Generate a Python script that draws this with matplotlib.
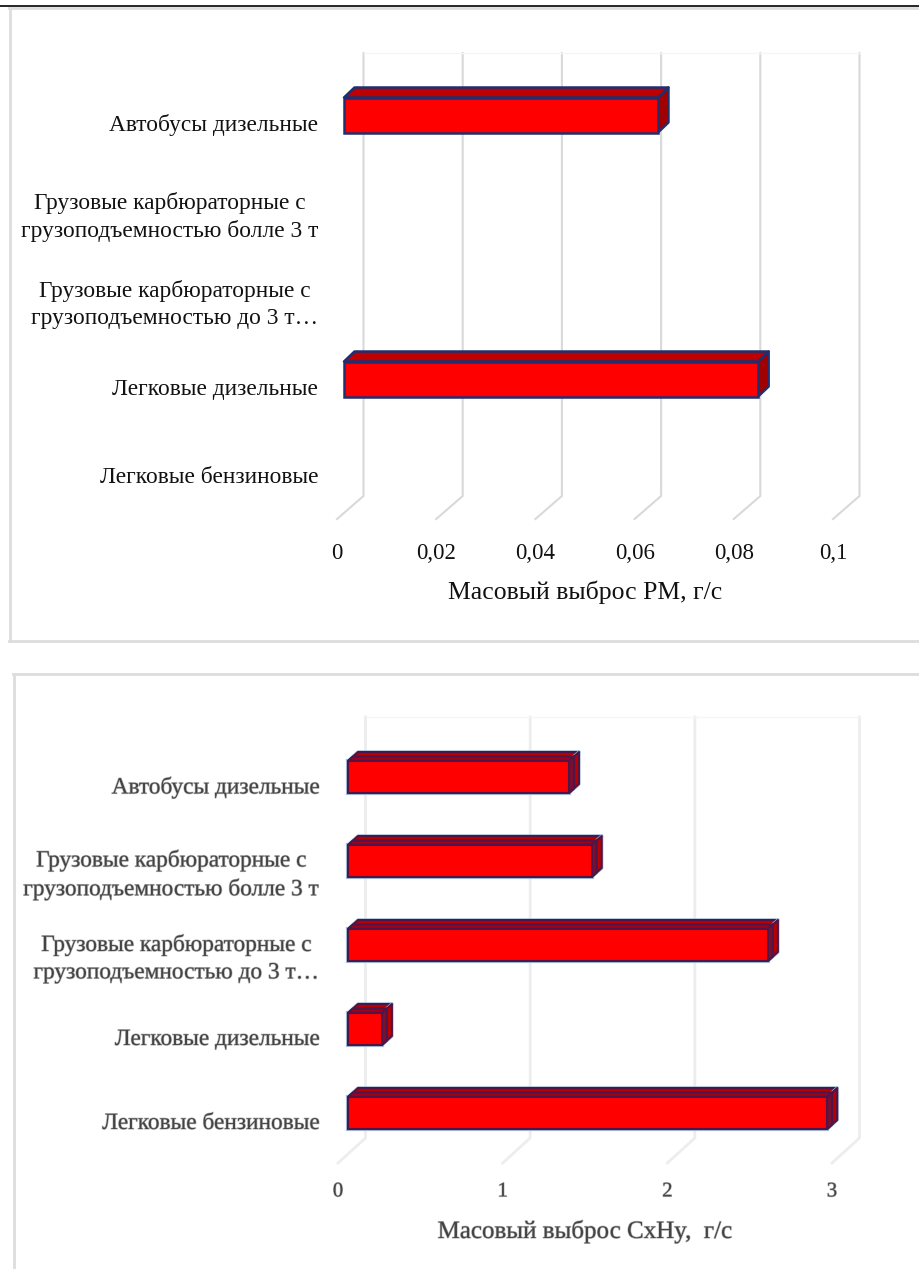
import matplotlib
matplotlib.use('Agg')
import matplotlib.pyplot as plt
import matplotlib.patheffects as pe
from matplotlib.lines import Line2D

plt.rcParams['font.family'] = ['Liberation Serif', 'DejaVu Serif']

W, H = 919, 1269

# categories from bottom to top
categories = ['Легковые бензиновые', 'Легковые дизельные',
              'Грузовые карбюраторные с\nгрузоподъемностью до 3 т…',
              'Грузовые карбюраторные с\nгрузоподъемностью болле 3 т',
              'Автобусы дизельные']

pm_values = [0, 0.0835, 0, 0, 0.0633]
pm_ticks = [0, 0.02, 0.04, 0.06, 0.08, 0.1]
pm_ticklabels = ['0', '0,02', '0,04', '0,06', '0,08', '0,1']
pm_xlabel = 'Масовый выброс PM, г/с'

cxhy_values = [2.91, 0.206, 2.55, 1.48, 1.342]
cxhy_ticks = [0, 1, 2, 3]
cxhy_ticklabels = ['0', '1', '2', '3']
cxhy_xlabel = 'Масовый выброс CxHy,  г/с'

fig = plt.figure(figsize=(W / 100, H / 100), dpi=100, facecolor='white')


def hline(x0, x1, y, color, lw):
    fig.add_artist(Line2D([x0 / W, x1 / W], [1 - y / H, 1 - y / H], color=color, lw=lw))


def vline(x, y0, y1, color, lw):
    fig.add_artist(Line2D([x / W, x / W], [1 - y0 / H, 1 - y1 / H], color=color, lw=lw))


def draw_chart(left, right, top, bottom, wall_top, wall_bottom, wall_dx, values, ticks, ticklabels,
               xlabel, start_px, bar_h_px, lift_px, depth_x, depth_y, style):
    ax = fig.add_axes([left / W, 1 - bottom / H, (right - left) / W, (bottom - top) / H])
    ax.patch.set_alpha(0)
    for s in ax.spines.values():
        s.set_visible(False)
    ax.set_xlim(ticks[0], ticks[-1])
    ax.set_ylim(-0.5, len(categories) - 0.5)

    ppu = (right - left) / (ticks[-1] - ticks[0])
    ppc = (bottom - top) / len(categories)

    def py(y_px):
        return (bottom - y_px) / ppc - 0.5

    # walls
    for t in ticks:
        back = t + wall_dx / ppu
        ax.plot([t, back, back], [-0.5 + style['floor'] / ppc, py(wall_bottom), py(wall_top)],
                color=style['grid'], lw=style['grid_lw'], clip_on=False, zorder=1, solid_joinstyle='miter')
    ax.plot([ticks[0] + wall_dx / ppu, ticks[-1] + wall_dx / ppu], [py(wall_top), py(wall_top)],
            color='#F6F6F6', lw=1, clip_on=False, zorder=1)

    start = start_px / ppu
    h = bar_h_px / ppc
    lift = lift_px / ppc
    for i, v in enumerate(values):
        if v <= 0:
            continue
        y0 = i + lift - h / 2
        y1 = i + lift + h / 2
        x0 = start
        x1 = start + v
        for frac, top_c, side_c in style['layers']:
            dx = depth_x * frac / ppu
            dy = depth_y * frac / ppc
            top_xy = [(x0, y1), (x0 + dx, y1 + dy), (x1 + dx, y1 + dy), (x1, y1)]
            side_xy = [(x1, y0), (x1 + dx, y0 + dy), (x1 + dx, y1 + dy), (x1, y1)]
            for xy, c in ((top_xy, top_c), (side_xy, side_c)):
                # the pale halo only sits outside the outermost layer
                if style['halo'] and frac == 1:
                    ax.fill(*zip(*xy), facecolor=c, edgecolor=style['halo'], lw=2.4,
                            clip_on=False, zorder=3, joinstyle='round')
                ax.fill(*zip(*xy), facecolor=c, edgecolor=style['edge'], lw=style['edge_lw'],
                        clip_on=False, zorder=3, joinstyle='round')
        if style['halo']:
            ax.barh(i + lift, v, height=h, left=start, color='#FF0000', edgecolor=style['halo'],
                    lw=3, zorder=2.5, clip_on=False)
        ax.barh(i + lift, v, height=h, left=start, color='#FF0000', edgecolor=style['edge'],
                lw=style['edge_lw'], zorder=5, clip_on=False)

    ax.set_xticks(ticks)
    ax.set_xticklabels(ticklabels, fontsize=style['x_fs'], color=style['text'])
    ax.set_yticks(range(len(categories)))
    ax.set_yticklabels(categories, fontsize=style['y_fs'], color=style['text'], linespacing=1.4)
    for lab in ax.get_yticklabels():
        lab.set_multialignment('center')
    ax.tick_params(axis='x', length=0, pad=style['x_pad'])
    ax.tick_params(axis='y', length=0, pad=style['y_pad'])
    ax.set_xlabel(xlabel, fontsize=style['label_fs'], color=style['text'], labelpad=style['labelpad'])
    if style['blur']:
        labels = ax.get_xticklabels() + ax.get_yticklabels() + [ax.xaxis.label]
        for lab in labels:
            lab.set_path_effects([pe.withStroke(linewidth=0.9, foreground='#BBBBBB')])
    return ax


top_style = dict(grid='#D9D9D9', grid_lw=1.5, floor=0, edge='#1F2F70', edge_lw=1.8, halo=None,
                 layers=[(1, '#BE0000', '#A00000')], text='#111111', x_fs=16.5, y_fs=16.8, label_fs=18.5,
                 x_pad=17, y_pad=13.5, labelpad=12, blur=False)
bottom_style = dict(grid='#EDEDED', grid_lw=2, floor=0, edge='#4E1548', edge_lw=1.5, halo='#A5BDD8',
                    layers=[(1, '#B80000', '#B80000'), (0.5, '#A00018', '#7A1030')], text='#444444',
                    x_fs=15, y_fs=16.8, label_fs=18, x_pad=14, y_pad=12.5, labelpad=13, blur=True)

draw_chart(337, 833, 79, 519, 53, 496, 26.5, pm_values, pm_ticks, pm_ticklabels, pm_xlabel,
           7, 35, 8, 10.5, 10, top_style)
draw_chart(338, 832, 743, 1163, 717, 1138, 27.5, cxhy_values, cxhy_ticks, cxhy_ticklabels, cxhy_xlabel,
           10, 32, 8, 10, 9, bottom_style)

# page furniture: running header rule and the two chart frames
hline(0, W, 5.5, '#000000', 1.2)
hline(9, W, 8, '#DDDDDD', 2)
vline(9.5, 8, 641, '#DDDDDD', 2)
hline(9, W, 641, '#DDDDDD', 2)
hline(13, W, 674, '#DDDDDD', 2)
vline(13.5, 674, H, '#DDDDDD', 2)

fig.savefig('out.png', dpi=100)
